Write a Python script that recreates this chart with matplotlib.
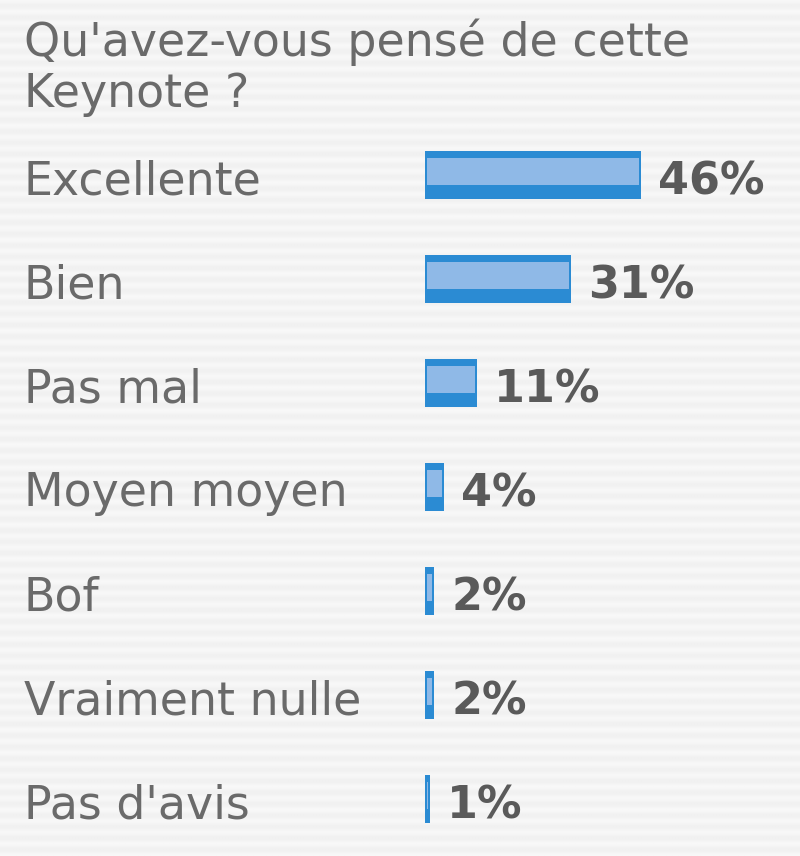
import matplotlib.pyplot as plt
import numpy as np

# Données du sondage
title = "Qu'avez-vous pensé de cette\nKeynote ?"
answers = ["Excellente", "Bien", "Pas mal", "Moyen moyen", "Bof",
           "Vraiment nulle", "Pas d'avis"]
percents = [46, 31, 11, 4, 2, 2, 1]

W, H = 800, 856
fig = plt.figure(figsize=(W / 100, H / 100), dpi=100)
fig.patch.set_facecolor('#f2f2f2')

# fond rayé
bg = fig.add_axes([0, 0, 1, 1], zorder=0)
rows = np.arange(H)
shade = 0.942 + 0.028 * (np.cos(2 * np.pi * rows / 11.4) + 1) / 2
bg.imshow(np.tile(shade[:, None], (1, 4)), cmap='gray', vmin=0, vmax=1,
          aspect='auto', extent=[0, 1, 0, 1], interpolation='bilinear')
bg.axis('off')

# axes des barres : x en %, 0% a x=425px, 4.7 px par %
px_per_pct = 4.7
x0 = 425
row_px = 104
y0 = 175
ax = fig.add_axes([0, 0, 1, 1], zorder=1)
ax.patch.set_alpha(0)
ax.set_xlim(-x0 / px_per_pct, (W - x0) / px_per_pct)
ax.set_ylim((H - y0) / row_px, -y0 / row_px)
ax.axis('off')

ypos = np.arange(len(answers))
bar_h = 48 / row_px
ax.barh(ypos, percents, height=bar_h, color='#2b8bd3', left=0,
        edgecolor='none')
# bande claire a l'interieur
inset = 2 / px_per_pct
inner = [max(p - 2 * inset, 0.15) for p in percents]
ax.barh(ypos - 3.5 / row_px, inner, height=27 / row_px, left=inset,
        color='#8fb9e7', edgecolor='none')

for y, a, p in zip(ypos, answers, percents):
    ax.text(24 / W, y + 7 / row_px, a, transform=ax.get_yaxis_transform(),
            fontsize=33, color='#6a6a6a', va='center', ha='left',
            family='DejaVu Sans')
    ax.text(p + 17 / px_per_pct, y + 7 / row_px, f"{p}%", fontsize=32,
            fontweight='bold', color='#5a5a5a', va='center', ha='left',
            family='DejaVu Sans')

fig.text(24 / W, 1 - 18 / H, title, fontsize=33, color='#6a6a6a',
         va='top', ha='left', linespacing=1.18, family='DejaVu Sans')

fig.savefig('out.png', dpi=100, facecolor=fig.get_facecolor())
